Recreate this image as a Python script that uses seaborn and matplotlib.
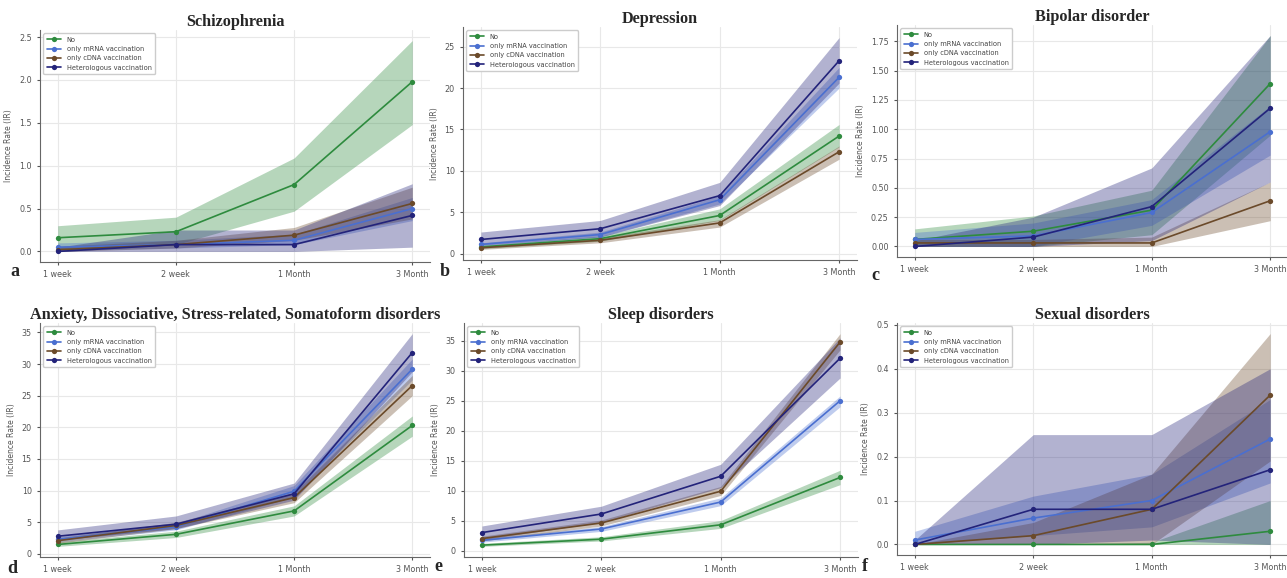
import numpy as np
import pandas as pd
import seaborn as sns
import matplotlib.pyplot as plt

# periodos e grupos
periods = ['1 week', '2 week', '1 Month', '3 Month']
groups = ['No', 'only mRNA vaccination', 'only cDNA vaccination', 'Heterologous vaccination']
colors = ['#2e8b3e', '#4a6fd0', '#6b4a2a', '#23237a']

# Schizophrenia (linhas = grupos, colunas = periodos)
schiz_ir = [[0.16, 0.23, 0.78, 1.98], [0.05, 0.08, 0.13, 0.50], [0.02, 0.08, 0.19, 0.56], [0.00, 0.08, 0.08, 0.42]]
schiz_lo = [[0.03, 0.08, 0.47, 1.48], [0.01, 0.04, 0.08, 0.36], [0.00, 0.04, 0.13, 0.38], [0.00, 0.00, 0.00, 0.05]]
schiz_hi = [[0.30, 0.40, 1.09, 2.46], [0.10, 0.13, 0.20, 0.63], [0.06, 0.13, 0.28, 0.75], [0.05, 0.25, 0.25, 0.79]]

# Depression
dep_ir = [[0.8, 1.8, 4.6, 14.2], [1.1, 2.3, 6.5, 21.3], [0.7, 1.6, 3.7, 12.3], [1.7, 3.0, 7.0, 23.3]]
dep_lo = [[0.6, 1.5, 4.0, 12.9], [0.9, 2.0, 6.0, 20.0], [0.5, 1.3, 3.2, 11.4], [1.0, 2.0, 5.8, 20.6]]
dep_hi = [[1.0, 2.1, 5.4, 15.6], [1.3, 2.6, 7.0, 22.5], [0.9, 1.9, 4.1, 13.0], [2.6, 4.0, 8.6, 26.1]]

# Bipolar disorder
bip_ir = [[0.06, 0.13, 0.31, 1.39], [0.06, 0.09, 0.29, 0.98], [0.03, 0.03, 0.03, 0.39], [0.00, 0.08, 0.34, 1.18]]
bip_lo = [[0.00, 0.00, 0.10, 0.95], [0.00, 0.00, 0.18, 0.78], [0.00, 0.00, 0.00, 0.22], [0.00, 0.00, 0.05, 0.55]]
bip_hi = [[0.15, 0.26, 0.48, 1.80], [0.12, 0.20, 0.40, 1.20], [0.06, 0.06, 0.08, 0.55], [0.05, 0.25, 0.67, 1.80]]

# Anxiety, Dissociative, Stress-related, Somatoform disorders
anx_ir = [[1.5, 3.1, 6.8, 20.3], [2.3, 4.3, 9.9, 29.2], [2.1, 4.5, 8.9, 26.6], [2.8, 4.7, 9.5, 31.8]]
anx_lo = [[1.2, 2.6, 6.0, 18.6], [1.9, 3.8, 9.0, 27.5], [1.7, 4.0, 8.1, 25.0], [2.2, 4.0, 8.5, 28.8]]
anx_hi = [[1.9, 3.6, 7.6, 21.8], [2.7, 4.8, 10.8, 30.8], [2.5, 5.0, 9.7, 28.2], [3.8, 6.0, 11.2, 34.8]]

# Sleep disorders
sleep_ir = [[0.9, 1.9, 4.3, 12.2], [1.7, 3.6, 8.1, 25.0], [2.0, 4.6, 9.9, 34.8], [3.0, 6.1, 12.4, 32.1]]
sleep_lo = [[0.7, 1.6, 3.7, 11.0], [1.4, 3.2, 7.5, 24.0], [1.6, 4.1, 9.2, 33.5], [1.8, 4.7, 10.5, 28.8]]
sleep_hi = [[1.2, 2.3, 5.0, 13.4], [2.0, 4.0, 8.8, 25.8], [2.4, 5.1, 10.7, 36.2], [4.1, 7.4, 14.4, 35.5]]

# Sexual disorders
sex_ir = [[0.00, 0.00, 0.00, 0.03], [0.01, 0.06, 0.10, 0.24], [0.00, 0.02, 0.08, 0.34], [0.00, 0.08, 0.08, 0.17]]
sex_lo = [[0.00, 0.00, 0.00, 0.00], [0.00, 0.02, 0.04, 0.14], [0.00, 0.00, 0.00, 0.19], [0.00, 0.00, 0.01, 0.00]]
sex_hi = [[0.00, 0.00, 0.005, 0.10], [0.03, 0.11, 0.16, 0.33], [0.00, 0.05, 0.16, 0.48], [0.01, 0.25, 0.25, 0.40]]

sns.set_style('whitegrid', {'axes.edgecolor': '#666666', 'grid.color': '#e8e8e8',
                            'xtick.bottom': True, 'ytick.left': True})
plt.rcParams['xtick.major.size'] = 2.5
plt.rcParams['ytick.major.size'] = 2.5

fig = plt.figure(figsize=(12.87, 5.78), dpi=100)
W, H = 1287, 578


def box(l, r, t, b):
    return [l / W, 1 - b / H, (r - l) / W, (b - t) / H]


painel = [
    ('Schizophrenia', schiz_ir, schiz_lo, schiz_hi, box(40, 430, 30, 262), 'a', (10, 276)),
    ('Depression', dep_ir, dep_lo, dep_hi, box(463, 857, 27, 260), 'b', (440, 276)),
    ('Bipolar disorder', bip_ir, bip_lo, bip_hi, box(897, 1288, 25, 257), 'c', (871, 280)),
    ('Anxiety, Dissociative, Stress-related, Somatoform disorders', anx_ir, anx_lo, anx_hi,
     box(40, 430, 323, 557), 'd', (7, 573)),
    ('Sleep disorders', sleep_ir, sleep_lo, sleep_hi, box(464, 858, 323, 557), 'e', (434, 571)),
    ('Sexual disorders', sex_ir, sex_lo, sex_hi, box(897, 1288, 323, 555), 'f', (862, 571)),
]

for title, ir, lo, hi, pos, letter, lpos in painel:
    ax = fig.add_axes(pos)
    # dados em formato longo para o seaborn
    df = pd.DataFrame({
        'period': periods * len(groups),
        'IR': np.array(ir).ravel(),
        'group': np.repeat(groups, len(periods)),
    })
    for g, c, l, h in zip(groups, colors, lo, hi):
        sub = df[df['group'] == g]
        sns.lineplot(data=sub, x='period', y='IR', ax=ax, color=c, marker='o',
                     markersize=3.8, markeredgewidth=0, linewidth=1.2, label=g, sort=False)
        ax.fill_between(periods, l, h, color=c, alpha=0.35, linewidth=0)

    ax.set_title(title, fontsize=11.7, fontweight='bold', family='Liberation Serif', pad=3)
    ax.set_xlabel('')
    ax.set_ylabel('Incidence Rate (IR)', fontsize=5.5, color='#555555')
    ax.tick_params(labelsize=5.8, colors='#555555', length=2.5)
    sns.despine(ax=ax)
    leg = ax.legend(loc='upper left', fontsize=4.8, frameon=True, framealpha=1,
                    edgecolor='#cccccc', borderpad=0.5, labelspacing=0.5, handlelength=2.2)
    for t in leg.get_texts():
        t.set_color('#444444')
    fig.text(lpos[0] / W, 1 - lpos[1] / H, letter, fontsize=13, fontweight='bold',
             family='Liberation Serif', va='baseline')

plt.savefig('out.png', dpi=100)
